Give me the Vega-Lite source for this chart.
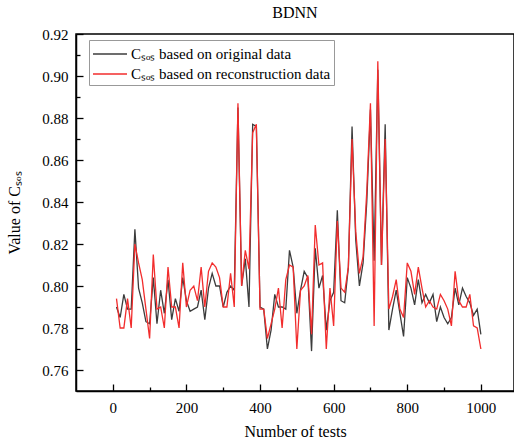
{
  "$schema": "https://vega.github.io/schema/vega-lite/v6.json",
  "width": 438,
  "height": 357,
  "autosize": {"type": "none"},
  "padding": {"left": 76, "top": 34, "right": 0, "bottom": 51},
  "title": {"text": "BDNN", "fontSize": 16, "font": "Liberation Serif", "fontWeight": "normal", "color": "black", "offset": 6, "anchor": "middle"},
  "data": {"values": [
    {"n":10,"o":0.790,"r":0.794},{"n":20,"o":0.785,"r":0.780},{"n":30,"o":0.796,"r":0.780},{"n":40,"o":0.789,"r":0.794},{"n":50,"o":0.789,"r":0.780},
    {"n":60,"o":0.827,"r":0.820},{"n":70,"o":0.799,"r":0.811},{"n":80,"o":0.792,"r":0.803},{"n":90,"o":0.783,"r":0.789},{"n":100,"o":0.782,"r":0.775},
    {"n":110,"o":0.804,"r":0.815},{"n":120,"o":0.782,"r":0.789},{"n":130,"o":0.798,"r":0.790},{"n":140,"o":0.787,"r":0.780},{"n":150,"o":0.803,"r":0.809},
    {"n":160,"o":0.784,"r":0.790},{"n":170,"o":0.794,"r":0.790},{"n":180,"o":0.788,"r":0.780},{"n":190,"o":0.804,"r":0.811},{"n":200,"o":0.793,"r":0.790},
    {"n":210,"o":0.788,"r":0.798},{"n":220,"o":0.789,"r":0.800},{"n":230,"o":0.790,"r":0.793},{"n":240,"o":0.798,"r":0.809},{"n":250,"o":0.784,"r":0.790},
    {"n":260,"o":0.799,"r":0.807},{"n":270,"o":0.806,"r":0.811},{"n":280,"o":0.800,"r":0.809},{"n":290,"o":0.800,"r":0.804},{"n":300,"o":0.790,"r":0.790},
    {"n":310,"o":0.797,"r":0.790},{"n":320,"o":0.800,"r":0.806},{"n":330,"o":0.798,"r":0.790},{"n":340,"o":0.885,"r":0.887},{"n":350,"o":0.800,"r":0.800},
    {"n":360,"o":0.813,"r":0.817},{"n":370,"o":0.790,"r":0.808},{"n":380,"o":0.877,"r":0.873},{"n":390,"o":0.876,"r":0.877},{"n":400,"o":0.790,"r":0.789},
    {"n":410,"o":0.789,"r":0.789},{"n":420,"o":0.770,"r":0.775},{"n":430,"o":0.779,"r":0.782},{"n":440,"o":0.796,"r":0.789},{"n":450,"o":0.790,"r":0.799},
    {"n":460,"o":0.790,"r":0.780},{"n":470,"o":0.789,"r":0.803},{"n":480,"o":0.817,"r":0.810},{"n":490,"o":0.809,"r":0.809},{"n":500,"o":0.787,"r":0.770},
    {"n":510,"o":0.798,"r":0.798},{"n":520,"o":0.807,"r":0.800},{"n":530,"o":0.804,"r":0.805},{"n":540,"o":0.769,"r":0.777},{"n":550,"o":0.818,"r":0.829},
    {"n":560,"o":0.799,"r":0.810},{"n":570,"o":0.805,"r":0.811},{"n":580,"o":0.779,"r":0.770},{"n":590,"o":0.793,"r":0.799},{"n":600,"o":0.797,"r":0.781},
    {"n":610,"o":0.836,"r":0.831},{"n":620,"o":0.793,"r":0.799},{"n":630,"o":0.792,"r":0.797},{"n":640,"o":0.809,"r":0.809},{"n":650,"o":0.876,"r":0.870},
    {"n":660,"o":0.822,"r":0.826},{"n":670,"o":0.800,"r":0.806},{"n":680,"o":0.811,"r":0.814},{"n":690,"o":0.840,"r":0.845},{"n":700,"o":0.884,"r":0.887},
    {"n":710,"o":0.812,"r":0.781},{"n":720,"o":0.903,"r":0.907},{"n":730,"o":0.810,"r":0.810},{"n":740,"o":0.877,"r":0.870},{"n":750,"o":0.779,"r":0.789},
    {"n":760,"o":0.789,"r":0.795},{"n":770,"o":0.798,"r":0.803},{"n":780,"o":0.787,"r":0.789},{"n":790,"o":0.776,"r":0.785},{"n":800,"o":0.804,"r":0.811},
    {"n":810,"o":0.799,"r":0.807},{"n":820,"o":0.791,"r":0.796},{"n":830,"o":0.803,"r":0.809},{"n":840,"o":0.792,"r":0.799},{"n":850,"o":0.796,"r":0.790},
    {"n":860,"o":0.792,"r":0.793},{"n":870,"o":0.796,"r":0.790},{"n":880,"o":0.783,"r":0.789},{"n":890,"o":0.790,"r":0.796},{"n":900,"o":0.785,"r":0.793},
    {"n":910,"o":0.782,"r":0.789},{"n":920,"o":0.785,"r":0.781},{"n":930,"o":0.799,"r":0.807},{"n":940,"o":0.791,"r":0.793},{"n":950,"o":0.799,"r":0.790},
    {"n":960,"o":0.795,"r":0.790},{"n":970,"o":0.792,"r":0.796},{"n":980,"o":0.786,"r":0.781},{"n":990,"o":0.789,"r":0.780},{"n":1000,"o":0.777,"r":0.770}
  ]},
  "transform": [{"fold": ["o", "r"], "as": ["series", "v"]}],
  "encoding": {
    "x": {"field": "n", "type": "quantitative",
      "scale": {"domain": [-100, 1090], "nice": false, "zero": false},
      "axis": {"title": "Number of tests", "values": [0,100,200,300,400,500,600,700,800,900,1000],
        "labelExpr": "datum.value % 200 == 0 ? datum.label : ''", "format": "d",
        "tickSize": {"condition": {"test": "datum.value % 200 == 0", "value": -7}, "value": -4},
        "tickColor": "black", "tickWidth": 1.3, "domainColor": "black", "domainWidth": 1.5,
        "labelFontSize": 15, "labelColor": "black", "labelFont": "Liberation Serif", "labelPadding": 16,
        "titleFontSize": 16, "titleFontWeight": "normal", "titleColor": "black", "titleFont": "Liberation Serif", "titlePadding": 8, "grid": false}},
    "y": {"field": "v", "type": "quantitative",
      "scale": {"domain": [0.75, 0.92], "nice": false, "zero": false},
      "axis": {"title": "Value of Cₛₒₛ", "values": [0.76,0.77,0.78,0.79,0.80,0.81,0.82,0.83,0.84,0.85,0.86,0.87,0.88,0.89,0.90,0.91,0.92],
        "labelExpr": "round(datum.value*100) % 2 == 0 ? format(datum.value, '.2f') : ''",
        "tickSize": {"condition": {"test": "round(datum.value*100) % 2 == 0", "value": -7}, "value": -4},
        "tickColor": "black", "tickWidth": 1.3, "domainColor": "black", "domainWidth": 1.5,
        "labelFontSize": 15, "labelColor": "black", "labelFont": "Liberation Serif", "labelPadding": 15,
        "titleFontSize": 16, "titleFontWeight": "normal", "titleColor": "black", "titleFont": "Liberation Serif", "titlePadding": 19, "grid": false}},
    "color": {"field": "series", "type": "nominal",
      "scale": {"domain": ["o", "r"], "range": ["#3c3c3c", "#f22d2d"]},
      "legend": {"orient": "none", "legendX": 13, "legendY": 6, "title": null,
        "labelExpr": "datum.value == 'o' ? 'Cₛₒₛ based on original data' : 'Cₛₒₛ based on reconstruction data'",
        "symbolType": "M-1.7,0H1.7", "symbolSize": 400, "symbolStrokeWidth": 1.5, "symbolOffset": 7, "labelOffset": 10, "labelLimit": 400,
        "strokeColor": "#999999", "fillColor": "white", "padding": 3,
        "labelFontSize": 15, "labelFont": "Liberation Serif", "labelColor": "black", "rowPadding": 1}}
  },
  "layer": [
    {"transform": [{"filter": "datum.series == 'o'"}], "mark": {"type": "line", "strokeWidth": 1.3}},
    {"transform": [{"filter": "datum.series == 'r'"}], "mark": {"type": "line", "strokeWidth": 1.3}}
  ],
  "config": {"view": {"stroke": "black", "strokeWidth": 1.5}, "font": "Liberation Serif"}
}
